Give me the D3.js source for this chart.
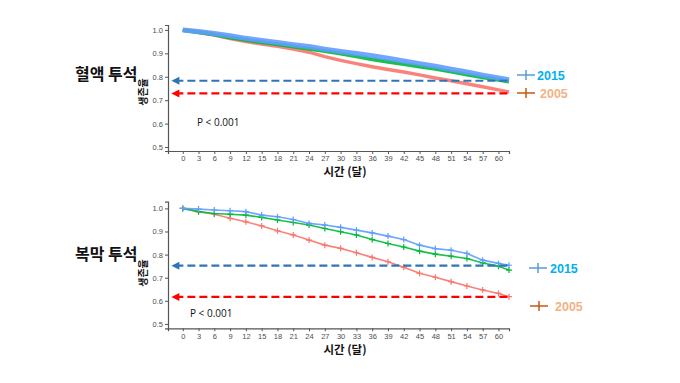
<!DOCTYPE html>
<html><head><meta charset="utf-8">
<script src="https://cdn.jsdelivr.net/npm/d3@7"></script>
<style>body{margin:0;background:#fff;}svg{display:block;font-family:"Noto Sans CJK KR","Noto Sans",sans-serif;}</style>
</head><body>
<svg id="c" width="680" height="383"></svg>
<script>
const months = [0,3,6,9,12,15,18,21,24,27,30,33,36,39,42,45,48,51,54,57,60,62];
const xTicks = d3.range(0,61,3);
const yTicks = [0.5,0.6,0.7,0.8,0.9,1.0];

// 혈액 투석 (hemodialysis)
const hdBlue  = [1.0,0.993,0.985,0.975,0.964,0.955,0.946,0.937,0.929,0.918,0.908,0.899,0.89,0.879,0.867,0.856,0.845,0.832,0.82,0.807,0.795,0.787];
const hdGreen = [1.0,0.99,0.98,0.968,0.957,0.947,0.939,0.929,0.92,0.91,0.899,0.887,0.875,0.864,0.854,0.844,0.834,0.822,0.81,0.798,0.787,0.78];
const hdRed   = [1.0,0.99,0.978,0.963,0.95,0.94,0.93,0.918,0.905,0.886,0.87,0.856,0.843,0.831,0.82,0.808,0.795,0.783,0.77,0.757,0.744,0.735];
const hdRef = {y2015:0.783, y2005:0.729};

// 복막 투석 (peritoneal dialysis)
const pdBlue  = [1.0,0.997,0.993,0.99,0.986,0.971,0.964,0.952,0.935,0.928,0.918,0.906,0.894,0.88,0.865,0.841,0.826,0.819,0.805,0.776,0.762,0.754];
const pdGreen = [1.0,0.986,0.978,0.975,0.971,0.961,0.95,0.939,0.928,0.913,0.899,0.885,0.865,0.848,0.833,0.815,0.802,0.793,0.783,0.764,0.75,0.733];
const pdRed   = [1.0,0.986,0.975,0.957,0.942,0.924,0.903,0.885,0.863,0.841,0.827,0.808,0.788,0.769,0.745,0.719,0.702,0.683,0.664,0.647,0.632,0.618];
const pdRef = {y2015:0.752, y2005:0.617};

const legendLabels = ["2015","2005"];

const svg = d3.select("#c");
const C = {blue:"#619CFF", green:"#00BA38", red:"#F8766D"};

function panel(cfg){
  const x = d3.scaleLinear().domain([-2.8,62]).range([168,509]);
  const y = d3.scaleLinear().domain(cfg.yDom).range([cfg.bottom, cfg.top]);
  const g = svg.append("g");
  const xa = g.append("g").attr("transform",`translate(0,${cfg.bottom})`)
    .call(d3.axisBottom(x).tickValues(xTicks).tickSize(3).tickPadding(2));
  const ya = g.append("g").attr("transform",`translate(168,0)`)
    .call(d3.axisLeft(y).tickValues(yTicks).tickSize(3).tickPadding(2).tickFormat(d3.format(".1f")));
  [xa,ya].forEach(a=>{
    a.selectAll("text").attr("fill","#4d4d4d").style("font-size","7.5px").style("font-family","Liberation Sans, Arial, sans-serif");
    a.selectAll("line").attr("stroke","#555");
    a.select(".domain").attr("stroke","#555").attr("stroke-width",1.2);
  });
  const line = d3.line().x((d,i)=>x(months[i])).y(d=>y(d));
  const series = [[cfg.red,C.red,cfg.swr],[cfg.green,C.green,cfg.swg],[cfg.blue,C.blue,cfg.sw]];
  series.forEach(([vals,col,sw])=>{
    g.append("path").datum(vals).attr("d",line).attr("fill","none")
      .attr("stroke",col).attr("stroke-width",sw).attr("stroke-linejoin","round").attr("opacity",0.9);
    if(cfg.marks){
      g.append("g").selectAll("path").data(vals).join("path")
        .attr("d",(d,i)=>{const cx=x(months[i]),cy=y(d);return `M${cx-3},${cy}H${cx+3}M${cx},${cy-3}V${cy+3}`;})
        .attr("stroke",col).attr("stroke-width",1.2);
    }
  });
  const refs = [[cfg.ref.y2015,"#2E75B6"],[cfg.ref.y2005,"#FF0000"]];
  refs.forEach(([v,col])=>{
    const yy = y(v);
    g.append("line").attr("x1",x(-1.4)).attr("x2",x(61.9)).attr("y1",yy).attr("y2",yy)
      .attr("stroke",col).attr("stroke-width",2.2).attr("stroke-dasharray","8,4");
    const ax = x(-1.4);
    g.append("path").attr("d",`M${ax-4},${yy}L${ax+4},${yy-4}L${ax+4},${yy+4}Z`).attr("fill",col);
  });
  const lg = [{t:legendLabels[0],lc:"#5B9BD5",tc:"#00B0F0",y:cfg.leg[0],x:cfg.legX[0],tx:cfg.legT[0]},
              {t:legendLabels[1],lc:"#C55A11",tc:"#F4B183",y:cfg.leg[1],x:cfg.legX[1],tx:cfg.legT[1]}];
  lg.forEach(l=>{
    g.append("path").attr("d",`M${l.x},${l.y}H${l.x+18}M${l.x+9},${l.y-5}V${l.y+5}`)
      .attr("stroke",l.lc).attr("stroke-width",1.5).attr("fill","none");
    g.append("text").attr("x",l.tx).attr("y",l.y+4.5).text(l.t).attr("fill",l.tc)
      .style("font-size","12.5px").style("font-weight","bold").style("font-family","Liberation Sans, Arial, sans-serif");
  });
  g.append("text").attr("x",cfg.p[0]).attr("y",cfg.p[1]).text("P < 0.001")
    .style("font-size","10px").attr("fill","#111").style("font-family","Open Sans, Liberation Sans, sans-serif");
  g.append("text").attr("x",75).attr("y",cfg.titleY).text(cfg.title)
    .style("font-size","16px").style("font-weight","bold").attr("fill","#111");
  g.append("text").attr("transform",`translate(147,${cfg.ylabY}) rotate(-90)`).attr("text-anchor","middle")
    .text("생존율").style("font-size","10px").style("font-weight","bold").attr("fill","#111");
  g.append("text").attr("x",345).attr("y",cfg.xlabY).attr("text-anchor","middle")
    .text("시간 (달)").style("font-size","11.5px").style("font-weight","bold").attr("fill","#111");
}

panel({title:"혈액 투석", top:25, bottom:151, yDom:[0.483,1.021], blue:hdBlue, green:hdGreen, red:hdRed,
  ref:hdRef, sw:5, swg:4, swr:3.5, marks:false, leg:[75,93], legX:[517,517], legT:[537,540], p:[197,126], titleY:80, ylabY:92, xlabY:176});
panel({title:"복막 투석", top:201.7, bottom:328.3, yDom:[0.481,1.029], blue:pdBlue, green:pdGreen, red:pdRed,
  ref:pdRef, sw:1.6, swg:1.6, swr:1.6, marks:true, leg:[268,306], legX:[529,530], legT:[550,555], p:[190,317], titleY:260, ylabY:273, xlabY:354});
</script>
</body></html>
